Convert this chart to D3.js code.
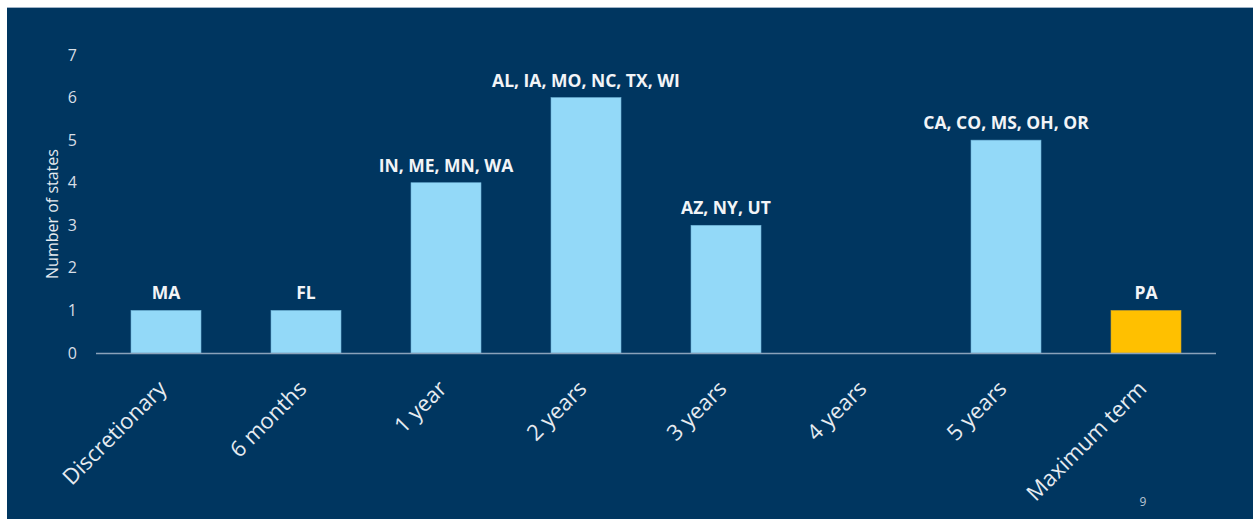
<!DOCTYPE html>
<html lang="en">
<head>
  <meta charset="UTF-8">
  <title>Number of states by term</title>
  <script src="https://d3js.org/d3.v7.min.js"></script>
  <style>
    body { margin: 0; background: #fff; }
    svg text { font-family: "Open Sans", "Noto Sans", sans-serif; }
  </style>
</head>
<body>
  <svg id="chart"></svg>
  <script>
    const categories = ["Discretionary", "6 months", "1 year", "2 years", "3 years", "4 years", "5 years", "Maximum term"];
    const counts = [1, 1, 4, 6, 3, 0, 5, 1];
    const stateLabels = ["MA", "FL", "IN, ME, MN, WA", "AL, IA, MO, NC, TX, WI", "AZ, NY, UT", "", "CA, CO, MS, OH, OR", "PA"];
    const highlight = ["Maximum term"];
    const yTicks = [0, 1, 2, 3, 4, 5, 6, 7];

    const W = 1253, H = 519;
    const margin = { top: 55, left: 96, right: 37, bottom: 166 };
    const innerH = H - margin.top - margin.bottom;

    const svg = d3.select("#chart").attr("width", W).attr("height", H);

    // slide background
    svg.append("rect").attr("x", 7).attr("y", 7).attr("width", W - 7).attr("height", H - 7)
      .attr("fill", "#003660");
    svg.append("line").attr("x1", 7).attr("x2", W).attr("y1", 7.5).attr("y2", 7.5)
      .attr("stroke", "#9fb3c6").attr("stroke-width", 1);

    const g = svg.append("g").attr("transform", `translate(${margin.left},${margin.top})`);

    const x = d3.scaleBand().domain(categories).range([0, W - margin.left - margin.right])
      .paddingInner(0.5).paddingOuter(0.25);
    const y = d3.scaleLinear().domain([0, 7]).range([innerH, 0]);

    // y axis tick labels
    g.selectAll("text.ytick")
      .data(yTicks)
      .enter().append("text")
      .attr("class", "ytick")
      .attr("x", -19)
      .attr("y", d => y(d))
      .attr("dy", "0.35em")
      .attr("text-anchor", "end")
      .attr("fill", "#d8dee6")
      .style("font-size", "16px")
      .text(d => d);

    svg.append("text")
      .attr("transform", `translate(58,${margin.top + y(3.5) + 10}) rotate(-90)`)
      .attr("text-anchor", "middle")
      .attr("fill", "#e6ebf0")
      .style("font-size", "16px")
      .text("Number of states");

    // bars
    g.selectAll("rect.bar")
      .data(categories)
      .enter().append("rect")
      .attr("class", "bar")
      .attr("x", d => x(d))
      .attr("y", (d, i) => y(counts[i]))
      .attr("width", x.bandwidth())
      .attr("height", (d, i) => y(0) - y(counts[i]))
      .attr("fill", d => highlight.includes(d) ? "#ffc000" : "#93d9f8")
      .attr("stroke", d => highlight.includes(d) ? "#c9a12a" : "#6fb3d6")
      .attr("stroke-width", 0.6);

    // baseline
    g.append("line")
      .attr("x1", 0).attr("x2", W - margin.left - margin.right)
      .attr("y1", y(0) + 0.5).attr("y2", y(0) + 0.5)
      .attr("stroke", "#8aa2ba").attr("stroke-width", 1.5);

    // data labels
    g.selectAll("text.lbl")
      .data(categories)
      .enter().append("text")
      .attr("class", "lbl")
      .attr("x", d => x(d) + x.bandwidth() / 2)
      .attr("y", (d, i) => y(counts[i]) - 11)
      .attr("text-anchor", "middle")
      .attr("fill", "#f2f4f7")
      .style("font-size", "17.5px")
      .style("font-weight", "bold")
      .text((d, i) => stateLabels[i]);

    // category labels
    g.selectAll("text.cat")
      .data(categories)
      .enter().append("text")
      .attr("class", "cat")
      .attr("transform", d => `translate(${x(d) + x.bandwidth() / 2 + 2},${innerH + 37}) rotate(-45)`)
      .attr("text-anchor", "end")
      .attr("fill", "#e6ebf0")
      .style("font-size", "22px")
      .text(d => d);

    // page number
    svg.append("text")
      .attr("x", 1143).attr("y", 506)
      .attr("text-anchor", "middle")
      .attr("fill", "#b9c5d2")
      .style("font-size", "12px")
      .text("9");
  </script>
</body>
</html>
